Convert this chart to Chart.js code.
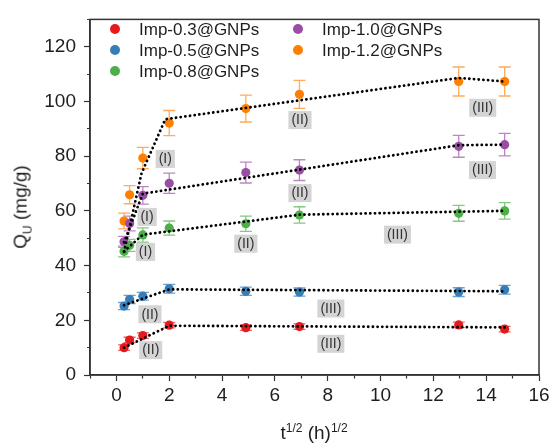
<!DOCTYPE html>
<html>
<head>
<meta charset="utf-8">
<script src="https://cdn.jsdelivr.net/npm/chart.js@4.4.1/dist/chart.umd.min.js"></script>
<style>
  body { margin: 0; background: #fff; }
  #wrap { position: relative; width: 554px; height: 444px; font-family: "Liberation Sans", Arial, sans-serif; color: #1e1e1e; }
  #myChart { position: absolute; left: 0; top: 0; }
  .leg { position: absolute; font-size: 17px; white-space: nowrap; line-height: 20px; }
  .leg i { display: inline-block; width: 10px; height: 10px; border-radius: 50%; margin-right: 19px; vertical-align: 1px; }
</style>
</head>
<body>
<div id="wrap">
  <canvas id="myChart" width="554" height="444"></canvas>
  <div id="legend"></div>
  <div id="ytitle" style="position:absolute;left:22px;top:207px;transform:translate(-50%,-50%) rotate(-90deg);font-size:19px;white-space:nowrap">Q<sub style="font-size:12px">U</sub> (mg/g)</div>
  <div id="xtitle" style="position:absolute;left:314px;top:418px;transform:translateX(-50%);font-size:19px;line-height:20px;white-space:nowrap">t<sup style="font-size:12px">1/2</sup> (h)<sup style="font-size:12px">1/2</sup></div>
</div>
<script>
// sampling times, t^1/2 in h^1/2
var tValues = [0.29, 0.5, 1, 2, 4.9, 6.93, 12.96, 14.7]

var names = ["Imp-0.3@GNPs", "Imp-0.5@GNPs", "Imp-0.8@GNPs", "Imp-1.0@GNPs", "Imp-1.2@GNPs"]

var imp03 = [10, 12.8, 14.4, 18.2, 17.3, 17.7, 18.3, 16.8]
var imp05 = [25.2, 27.6, 28.8, 31.5, 30.6, 30.3, 30.3, 31.2]
var imp08 = [45.2, 47.4, 51.2, 53.7, 55.3, 58.5, 59.1, 60]
var imp10 = [48.7, 55.4, 65.7, 70.1, 74, 74.9, 83.6, 84.2]
var imp12 = [56.3, 65.9, 79.3, 92.1, 97.4, 102.6, 107.3, 107.3]

var err03 = [1, 1, 1, 1, 1, 1, 1, 1]
var err05 = [1.3, 1.5, 1.4, 1.6, 1.5, 1.5, 1.6, 1.6]
var err08 = [2, 2.2, 2.6, 2.6, 2.8, 3, 2.9, 3]
var err10 = [2, 2.7, 3.2, 3.7, 3.8, 3.8, 4, 4.1]
var err12 = [2.9, 3.3, 3.9, 4.6, 4.9, 5.1, 5.3, 5.3]

// dotted piecewise fits
var fit03x = [0.29, 2, 14.7], fit03y = [10, 18, 17.4]
var fit05x = [0.29, 2, 14.7], fit05y = [25.5, 31.3, 30.6]
var fit08x = [0.29, 1, 6.93, 14.7], fit08y = [45.2, 51.3, 58.6, 60]
var fit10x = [0.29, 1, 12.96, 14.7], fit10y = [48.5, 66.3, 84, 84.2]
var fit12x = [0.29, 0.95, 1.85, 12.96, 14.7], fit12y = [45, 73.7, 93.5, 108.6, 107.3]

// stage labels
var stageText = ["(I)", "(II)", "(III)", "(I)", "(II)", "(III)", "(I)", "(II)", "(III)", "(II)", "(III)", "(II)", "(III)"]
var stageX = [1.85, 6.95, 13.87, 1.16, 6.95, 13.86, 1.1, 4.9, 10.64, 1.27, 8.12, 1.3, 8.12]
var stageY = [79, 93.2, 97.7, 57.8, 66.5, 74.9, 45, 48, 51.3, 22.2, 24.3, 9.1, 11.4]

var xLabelTicks = [0, 2, 4, 6, 8, 10, 12, 14, 16]
var yLabelTicks = [0, 20, 40, 60, 80, 100, 120]

var colors = ["#e41a1c", "#377eb8", "#4daf4a", "#984ea3", "#ff7f00"]
var barColors = ["#ef6264", "#6f9fd0", "#84c882", "#bb86c4", "#ffab5c"]

function pts(xs, ys) {
    var out = []
    for (var i = 0; i < xs.length; i++) out.push({x: xs[i], y: ys[i]})
    return out
}

var values = [imp03, imp05, imp08, imp10, imp12]
var errors = [err03, err05, err08, err10, err12]
var fits = [pts(fit03x, fit03y), pts(fit05x, fit05y), pts(fit08x, fit08y), pts(fit10x, fit10y), pts(fit12x, fit12y)]

var datasets = []
for (var k = 0; k < 5; k++) {
    datasets.push({
        type: 'scatter',
        label: names[k],
        data: pts(tValues, values[k]),
        errors: errors[k],
        barColor: barColors[k],
        backgroundColor: colors[k],
        borderColor: colors[k],
        pointRadius: 4.6,
        pointBorderWidth: 0,
        order: 2
    })
}
for (var k = 0; k < 5; k++) {
    datasets.push({
        type: 'line',
        label: 'fit' + k,
        data: fits[k],
        borderColor: "#000",
        borderWidth: 2.8,
        borderDash: [0.1, 4.6],
        borderCapStyle: 'round',
        pointRadius: 0,
        fill: false,
        order: 1
    })
}

// legend as html, two columns
var legend = document.getElementById("legend")
var legPos = [[110, 20], [110, 41], [110, 62], [293, 20], [293, 41]]
for (var k = 0; k < 5; k++) {
    var d = document.createElement("div")
    d.className = "leg"
    d.style.left = legPos[k][0] + "px"
    d.style.top = legPos[k][1] + "px"
    d.innerHTML = '<i style="background:' + colors[k] + '"></i>' + names[k]
    legend.appendChild(d)
}

var errorBars = {
    id: 'errorBars',
    beforeDatasetsDraw: function(chart) {
        var ctx = chart.ctx
        var xs = chart.scales.x, ys = chart.scales.y
        ctx.save()
        chart.data.datasets.forEach(function(ds) {
            if (!ds.errors) return
            ctx.strokeStyle = ds.barColor
            ctx.lineWidth = 1.3
            ds.data.forEach(function(p, i) {
                var px = xs.getPixelForValue(p.x)
                var top = ys.getPixelForValue(p.y + ds.errors[i])
                var bot = ys.getPixelForValue(p.y - ds.errors[i])
                ctx.beginPath()
                ctx.moveTo(px, top); ctx.lineTo(px, bot)
                ctx.moveTo(px - 6, top); ctx.lineTo(px + 6, top)
                ctx.moveTo(px - 6, bot); ctx.lineTo(px + 6, bot)
                ctx.stroke()
            })
        })
        ctx.restore()
    }
}

var stageLabels = {
    id: 'stageLabels',
    afterDatasetsDraw: function(chart) {
        var ctx = chart.ctx
        var xs = chart.scales.x, ys = chart.scales.y
        ctx.save()
        ctx.font = '14px "Liberation Sans", Arial, sans-serif'
        ctx.textAlign = 'center'
        ctx.textBaseline = 'middle'
        for (var i = 0; i < stageText.length; i++) {
            var cx = xs.getPixelForValue(stageX[i])
            var cy = ys.getPixelForValue(stageY[i])
            var w = ctx.measureText(stageText[i]).width + 6
            ctx.fillStyle = "#d4d4d4"
            ctx.fillRect(cx - w / 2, cy - 9, w, 18)
            ctx.fillStyle = "#333"
            ctx.fillText(stageText[i], cx, cy + 0.5)
        }
        ctx.restore()
    }
}

var frame = {
    id: 'frame',
    afterDraw: function(chart) {
        var a = chart.chartArea, ctx = chart.ctx
        ctx.save()
        ctx.strokeStyle = "#333"
        ctx.lineWidth = 1.5
        ctx.strokeRect(a.left, a.top, a.right - a.left, a.bottom - a.top)
        ctx.restore()
    }
}

var tickFont = {family: '"Liberation Sans", Arial, sans-serif', size: 19}

var myChart = new Chart(document.getElementById("myChart").getContext('2d'), {
    data: {datasets: datasets},
    plugins: [errorBars, stageLabels, frame],
    options: {
        responsive: false,
        animation: false,
        layout: {padding: {left: 0, right: 15, top: 14, bottom: 0}},
        plugins: {legend: {display: false}, tooltip: {enabled: false}},
        scales: {
            x: {
                type: 'linear',
                min: -1, max: 16,
                afterFit: function(s) { s.height = 69 },
                border: {color: "#333", width: 1.5},
                grid: {
                    drawOnChartArea: false,
                    tickLength: 6,
                    tickColor: "#333",
                    tickWidth: 1.2,
                    tickBorderDash: function(c) { return xLabelTicks.indexOf(c.tick.value) >= 0 ? [] : [3, 100] }
                },
                ticks: {
                    stepSize: 1,
                    autoSkip: false,
                    maxRotation: 0,
                    padding: 3,
                    color: "#1e1e1e",
                    font: tickFont,
                    callback: function(v) { return xLabelTicks.indexOf(v) >= 0 ? String(v) : '' }
                }
            },
            y: {
                min: 0, max: 130,
                afterFit: function(s) { s.width = 90 },
                border: {color: "#333", width: 1.5},
                grid: {
                    drawOnChartArea: false,
                    tickLength: 6,
                    tickColor: "#333",
                    tickWidth: 1.2,
                    tickBorderDash: function(c) { return yLabelTicks.indexOf(c.tick.value) >= 0 ? [] : [0, 3, 3, 100] }
                },
                ticks: {
                    stepSize: 10,
                    autoSkip: false,
                    padding: 8,
                    color: "#1e1e1e",
                    font: tickFont,
                    callback: function(v) { return yLabelTicks.indexOf(v) >= 0 ? String(v) : '' }
                }
            }
        }
    }
})
</script>
</body>
</html>
